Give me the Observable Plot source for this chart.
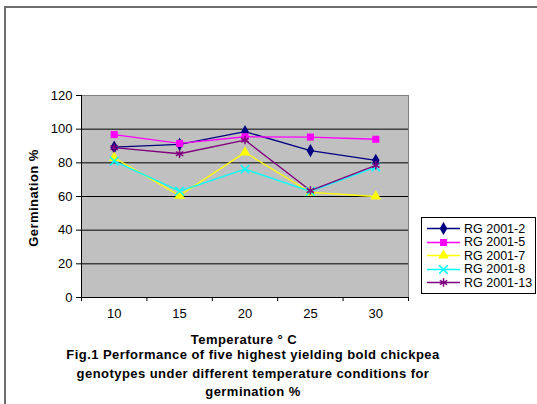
<!DOCTYPE html>
<html>
<head>
<meta charset="utf-8">
<script src="https://cdn.jsdelivr.net/npm/d3@7"></script>
<script src="https://cdn.jsdelivr.net/npm/@observablehq/plot@0.6"></script>
<style>
  html, body { margin: 0; padding: 0; background: #fff; }
  #wrap { position: relative; width: 537px; height: 404px; overflow: hidden; font-family: "Liberation Sans", Arial, sans-serif; }
  #frame { position: absolute; left: 4px; top: 6px; width: 540px; height: 410px; border-left: 2px solid #6e6e6e; border-top: 2px solid #6e6e6e; box-sizing: border-box; }
  .lbl { position: absolute; font-weight: bold; font-size: 13px; letter-spacing: 0.45px; color: #000; white-space: nowrap; }
  #ylab { left: 33px; top: 198px; transform: translate(-50%, -50%) rotate(-90deg); }
  #xlab { left: 244px; top: 339px; transform: translate(-50%, -50%); line-height: 15px; }
  #cap { left: 253px; top: 346px; transform: translateX(-50%); text-align: center; line-height: 18.5px; }
  #legend { position: absolute; left: 421px; top: 217px; width: 115px; height: 77px; border: 1px solid #000; box-sizing: border-box; background: #fff; }
  .lg { position: absolute; left: 5px; height: 13px; display: flex; align-items: center; font-size: 12.5px; }
  .lg svg { margin-right: 4px; }
</style>
</head>
<body>
<div id="wrap">
  <div id="frame"></div>
  <div id="chart"></div>
  <div class="lbl" id="ylab">Germination %</div>
  <div class="lbl" id="xlab">Temperature ° C</div>
  <div class="lbl" id="cap">Fig.1 Performance of five highest yielding bold chickpea<br>genotypes under different temperature conditions for<br>germination %</div>
  <div id="legend"></div>
</div>
<script>
// ---- data ----
const temps = [10, 15, 20, 25, 30];
const seriesNames = ["RG 2001-2", "RG 2001-5", "RG 2001-7", "RG 2001-8", "RG 2001-13"];
const rg2001_2  = [89.3, 91, 98.5, 87.3, 81.5];
const rg2001_5  = [96.8, 91.5, 95.5, 95.3, 94];
const rg2001_7  = [83, 60.5, 86.2, 62.5, 60];
const rg2001_8  = [81, 63.2, 76.2, 63, 77.5];
const rg2001_13 = [89, 85.4, 93.5, 63.5, 78.5];
const yTicks = [0, 20, 40, 60, 80, 100, 120];

const seriesValues = [rg2001_2, rg2001_5, rg2001_7, rg2001_8, rg2001_13];
const colors  = ["#000080", "#ff00ff", "#ffff00", "#00ffff", "#800080"];
const symbols = ["diamond", "square", "triangle", "times", "asterisk"];
const filled  = [true, true, true, false, false];

const rows = [];
seriesNames.forEach((s, i) => temps.forEach((t, j) => rows.push({series: s, temp: t, value: seriesValues[i][j]})));

const bounds = temps.map(t => t - 2.5).concat([temps[temps.length - 1] + 2.5]);

const marks = [
  Plot.frame({fill: "#c0c0c0", stroke: "#808080"}),
  Plot.ruleY(yTicks.filter(v => v > 0 && v < 120), {stroke: "#000", strokeWidth: 1}),
  Plot.ruleY([0], {stroke: "#000"}),
  Plot.ruleX([bounds[0]], {stroke: "#000"}),
  Plot.axisY({ticks: yTicks, tickSize: 5, tickPadding: 4, fontSize: 13, label: null}),
  Plot.axisX({ticks: bounds, tickSize: 4, tickFormat: () => "", label: null}),
  Plot.axisX({ticks: temps, tickSize: 0, tickPadding: 11, fontSize: 13, label: null})
];
seriesNames.forEach((s, i) => {
  const d = rows.filter(r => r.series === s);
  marks.push(Plot.line(d, {x: "temp", y: "value", stroke: colors[i], strokeWidth: 1.3}));
});
seriesNames.forEach((s, i) => {
  const d = rows.filter(r => r.series === s);
  const opts = {x: "temp", y: "value", symbol: () => symbols[i], r: 4};
  if (filled[i]) { opts.fill = colors[i]; opts.stroke = "none"; }
  else { opts.stroke = colors[i]; opts.strokeWidth = 1.5; opts.fill = "none"; }
  marks.push(Plot.dot(d, opts));
});

const chart = Plot.plot({
  width: 537,
  height: 404,
  marginLeft: 81,
  marginRight: 129,
  marginTop: 95,
  marginBottom: 107,
  style: {background: "transparent", fontFamily: "Liberation Sans, Arial, sans-serif", color: "#000"},
  x: {type: "linear", domain: [bounds[0], bounds[bounds.length - 1]]},
  y: {domain: [yTicks[0], yTicks[yTicks.length - 1]]},
  marks
});
document.getElementById("chart").appendChild(chart);

// ---- legend ----
const symMap = {diamond: d3.symbolDiamond, square: d3.symbolSquare, triangle: d3.symbolTriangle, times: d3.symbolTimes, asterisk: d3.symbolAsterisk};
const legend = document.getElementById("legend");
seriesNames.forEach((s, i) => {
  const row = document.createElement("div");
  row.className = "lg";
  row.style.top = (4 + i * 13.5) + "px";
  const svg = d3.create("svg").attr("width", 33).attr("height", 13);
  svg.append("line").attr("x1", 0).attr("x2", 33).attr("y1", 6.5).attr("y2", 6.5).attr("stroke", colors[i]).attr("stroke-width", 1.3);
  const p = svg.append("path").attr("transform", "translate(16.5,6.5)").attr("d", d3.symbol(symMap[symbols[i]], 50)());
  if (filled[i]) p.attr("fill", colors[i]); else p.attr("fill", "none").attr("stroke", colors[i]).attr("stroke-width", 1.5);
  row.appendChild(svg.node());
  const t = document.createElement("span");
  t.textContent = s;
  row.appendChild(t);
  legend.appendChild(row);
});
</script>
</body>
</html>
